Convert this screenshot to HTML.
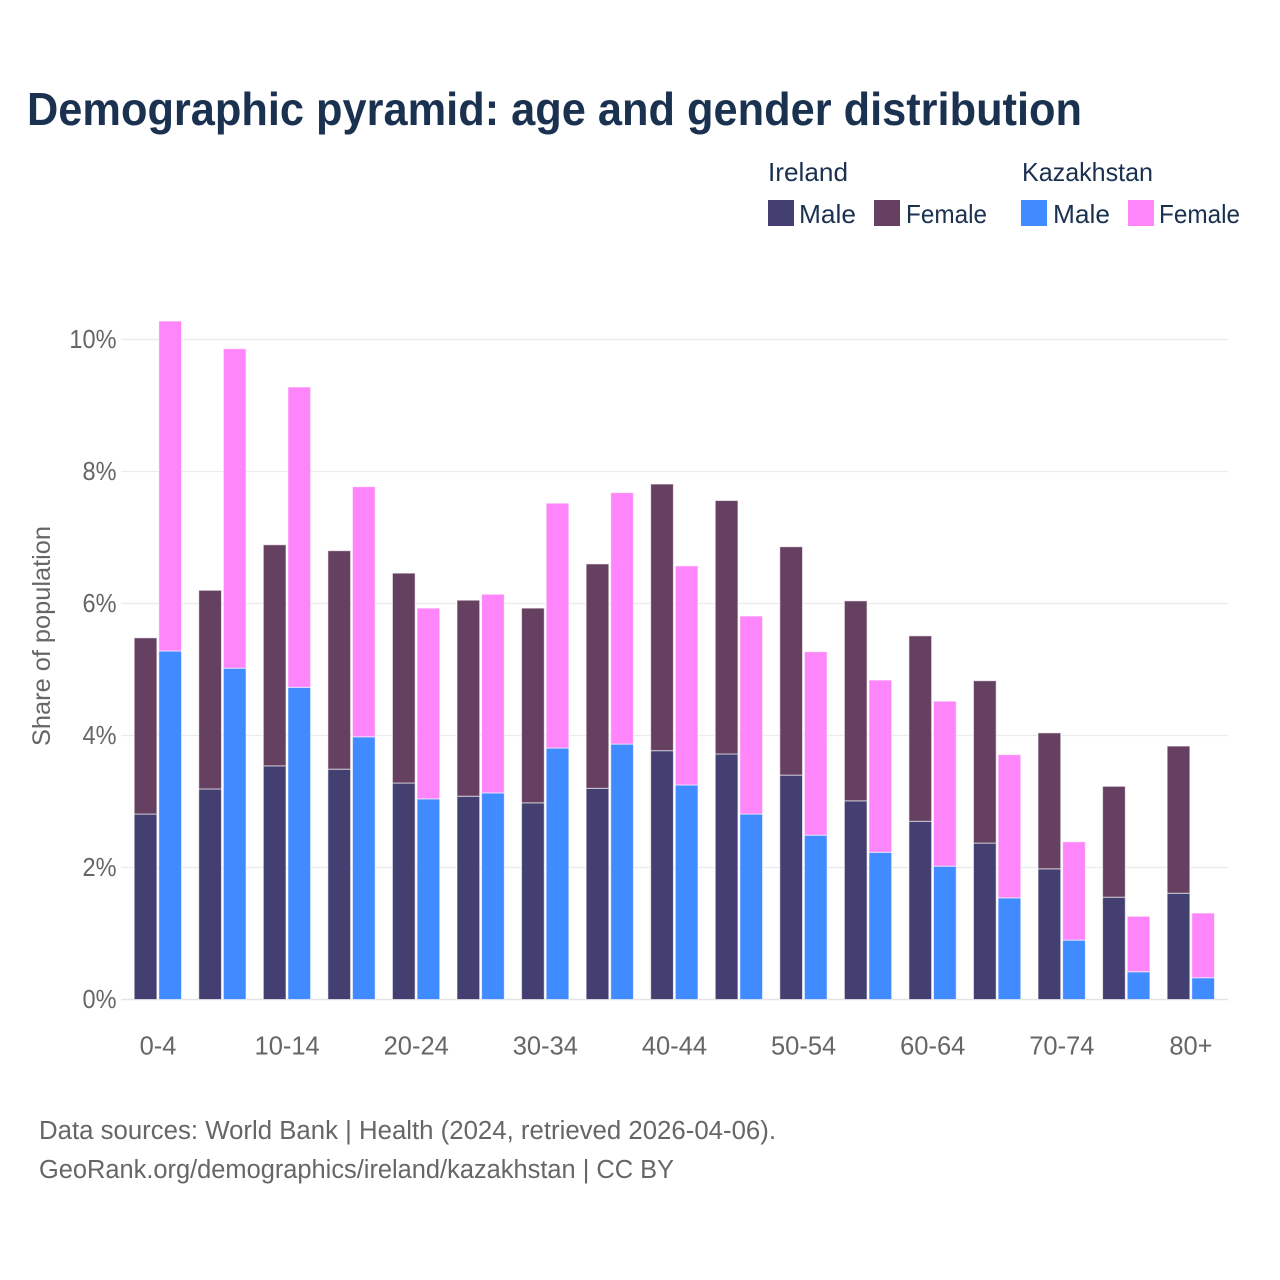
<!DOCTYPE html>
<html lang="en">
<head>
<meta charset="utf-8">
<title>Demographic pyramid: age and gender distribution</title>
<style>
html,body{margin:0;padding:0;background:#fff;width:1280px;height:1280px;overflow:hidden}
svg{display:block}
text{font-family:"Liberation Sans",sans-serif}
.title{font-size:46px;font-weight:700;fill:#1a3150}
.legend{font-size:26px;fill:#1a3150}
.tick{font-size:26px;fill:#666}
.axis-title{font-size:25px;fill:#666}
.note{font-size:25.5px;fill:#666}
</style>
</head>
<body>
<svg id="chart" xmlns="http://www.w3.org/2000/svg" width="1280" height="1280" viewBox="0 0 1280 1280">
  <rect x="0" y="0" width="1280" height="1280" fill="#fff"/>
  <text class="title" x="27" y="125" textLength="1055" lengthAdjust="spacingAndGlyphs">Demographic pyramid: age and gender distribution</text>

  <g>
    <text class="legend" x="768" y="181" textLength="80" lengthAdjust="spacingAndGlyphs">Ireland</text>
    <text class="legend" x="1022" y="181" textLength="131" lengthAdjust="spacingAndGlyphs">Kazakhstan</text>
    <rect x="768" y="200" width="26" height="26" fill="#433f70"/>
    <text class="legend" x="799" y="223" textLength="57" lengthAdjust="spacingAndGlyphs">Male</text>
    <rect x="874" y="200" width="26" height="26" fill="#664060"/>
    <text class="legend" x="906" y="223" textLength="81" lengthAdjust="spacingAndGlyphs">Female</text>
    <rect x="1021" y="200" width="26" height="26" fill="#3f8bff"/>
    <text class="legend" x="1053" y="223" textLength="57" lengthAdjust="spacingAndGlyphs">Male</text>
    <rect x="1128" y="200" width="26" height="26" fill="#ff85fa"/>
    <text class="legend" x="1159" y="223" textLength="81" lengthAdjust="spacingAndGlyphs">Female</text>
  </g>

  <g id="grid"></g>
  <g id="yAxis"></g>
  <g id="bars"></g>
  <g id="xAxis"></g>

  <text class="axis-title" transform="translate(50,746) rotate(-90)" x="0" y="0" textLength="220" lengthAdjust="spacingAndGlyphs">Share of population</text>

  <text class="note" x="39" y="1139" textLength="737" lengthAdjust="spacingAndGlyphs">Data sources: World Bank | Health (2024, retrieved 2026-04-06).</text>
  <text class="note" x="39" y="1178" textLength="635" lengthAdjust="spacingAndGlyphs">GeoRank.org/demographics/ireland/kazakhstan | CC BY</text>
</svg>
<script>
const categories = ["0-4","5-9","10-14","15-19","20-24","25-29","30-34","35-39","40-44","45-49","50-54","55-59","60-64","65-69","70-74","75-79","80+"];
const irelandMale = [2.81,3.19,3.54,3.49,3.28,3.08,2.98,3.20,3.77,3.72,3.40,3.01,2.70,2.37,1.98,1.55,1.61];
const irelandFemale = [2.67,3.01,3.35,3.31,3.18,2.97,2.95,3.40,4.04,3.84,3.46,3.03,2.81,2.46,2.06,1.68,2.23];
const kazakhstanMale = [5.28,5.02,4.73,3.98,3.04,3.13,3.81,3.87,3.25,2.81,2.49,2.23,2.02,1.54,0.90,0.42,0.33];
const kazakhstanFemale = [5.00,4.84,4.55,3.79,2.89,3.01,3.71,3.81,3.32,3.00,2.78,2.61,2.50,2.17,1.49,0.84,0.98];
const yTicks = [0,2,4,6,8,10];
const yTickLabels = ["0%","2%","4%","6%","8%","10%"];

const NS = "http://www.w3.org/2000/svg";
function yScale(v){ return 999.5 - v * 66; }
function xScale(i){ return 134 + i * 64.56; }
const barW = 22.7;
const pairOffset = 24.6;

function make(tag, parent, attrs){
  const el = document.createElementNS(NS, tag);
  for (const k in attrs) el.setAttribute(k, attrs[k]);
  parent.appendChild(el);
  return el;
}
function condense(el, factor){
  el.setAttribute("textLength", el.getComputedTextLength() * factor);
  el.setAttribute("lengthAdjust", "spacingAndGlyphs");
}

const gridG = document.getElementById("grid");
const yG = document.getElementById("yAxis");
yTicks.forEach(function(t, i){
  const line = make("line", gridG, {x1:121, x2:1228, y1:yScale(t), y2:yScale(t), stroke:t === 0 ? "#e4e4e4" : "#ebebeb", "stroke-width":t === 0 ? 1.6 : 1.3});
  
  
  const label = make("text", yG, {x:116.5, y:yScale(t)+8.5, "text-anchor":"end", "class":"tick"});
  
  
  label.textContent = yTickLabels[i];
  condense(label, 0.905);
});

const barsG = document.getElementById("bars");
function segment(x, v0, v1, fill){
  const top = yScale(v1), bottom = yScale(v0);
  const r = make("rect", barsG, {x:x, y:top, width:barW, height:bottom-top, fill:fill, stroke:"#fff", "stroke-opacity":0.6, "stroke-width":1});
  return r;
}
categories.forEach(function(c, i){
  const x1 = xScale(i) + 0.2;
  const x2 = x1 + pairOffset;
  const a = segment(x1, 0, irelandMale[i], "#433f70");
  
  
  const b = segment(x1, irelandMale[i], irelandMale[i] + irelandFemale[i], "#664060");
  
  
  const d = segment(x2, 0, kazakhstanMale[i], "#3f8bff");
  
  
  const e = segment(x2, kazakhstanMale[i], kazakhstanMale[i] + kazakhstanFemale[i], "#ff85fa");
  
  
});

const xG = document.getElementById("xAxis");
categories.forEach(function(c, i){
  if (i % 2 !== 0) return;
  const t = make("text", xG, {x:xScale(i) + 24, y:1054.5, "text-anchor":"middle", "class":"tick"});
  
  
  t.textContent = c;
  condense(t, 0.98);
});
</script>
</body>
</html>
